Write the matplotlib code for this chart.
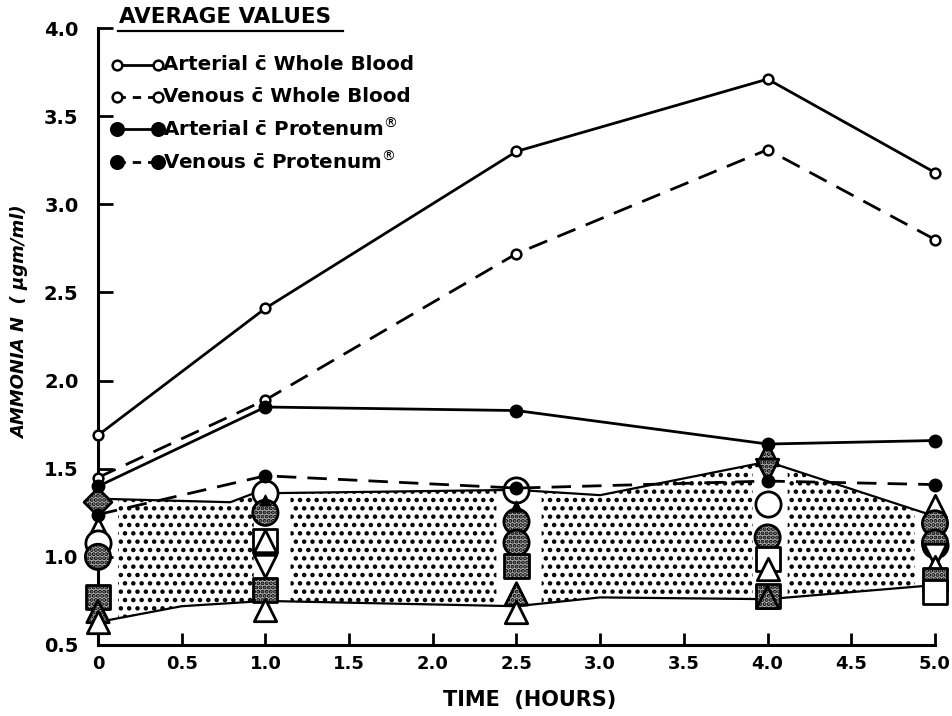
import numpy as np
import matplotlib
matplotlib.use("Agg")
import matplotlib.pyplot as plt
from matplotlib.lines import Line2D

plt.rcParams['hatch.linewidth'] = 2.0

# ---------------- data ----------------
times = [0.0, 1.0, 2.5, 4.0, 5.0]
arterial_whole_blood = [1.69, 2.41, 3.30, 3.71, 3.18]
venous_whole_blood = [1.45, 1.89, 2.72, 3.31, 2.80]
arterial_protenum = [1.40, 1.85, 1.83, 1.64, 1.66]
venous_protenum = [1.24, 1.46, 1.39, 1.43, 1.41]

# range band (individual values envelope)
band_upper_t = [0.0, 0.79, 0.93, 2.5, 3.0, 4.0, 5.0]
band_upper_v = [1.33, 1.31, 1.36, 1.38, 1.35, 1.54, 1.23]
band_lower_t = [0.0, 0.5, 1.0, 2.5, 3.0, 4.0, 5.0]
band_lower_v = [0.63, 0.72, 0.75, 0.72, 0.77, 0.76, 0.84]
band_segments = [(0.12, 0.93), (1.15, 2.38), (2.65, 3.91), (4.12, 4.88)]

# individual values at each sampling time (marker, fill)
col_t0_vals = [1.31, 1.16, 1.08, 1.00, 0.77, 0.69, 0.63]
col_t0_marks = ['D', '^', 'o', 'o', 's', '^', '^']
col_t0_fill = ['dot', 'open', 'open', 'dot', 'dot', 'dot', 'open']

col_t1_vals = [1.36, 1.32, 1.25, 1.09, 1.09, 0.95, 0.81, 0.70]
col_t1_marks = ['o', '^', 'o', 's', '^', 'v', 's', '^']
col_t1_fill = ['open', 'black', 'dot', 'open', 'open', 'open', 'dot', 'open']

col_t25_vals = [1.38, 1.29, 1.20, 1.08, 0.95, 0.79, 0.69]
col_t25_marks = ['o', '^', 'o', 'o', 's', '^', '^']
col_t25_fill = ['open', 'black', 'dot', 'dot', 'dot', 'dot', 'open']

col_t4_vals = [1.58, 1.49, 1.30, 1.11, 0.99, 0.93, 0.78, 0.77]
col_t4_marks = ['^', 'v', 'o', 'o', 's', '^', 's', '^']
col_t4_fill = ['dot', 'dot', 'open', 'dot', 'open', 'open', 'dot', 'dot']

col_t5_vals = [1.29, 1.19, 1.07, 1.08, 1.01, 0.94, 0.87, 0.80]
col_t5_marks = ['^', 'o', 'o', 'o', 'v', '^', 's', 's']
col_t5_fill = ['open', 'dot', 'open', 'dot', 'open', 'open', 'dot', 'open']

columns = [(0.0, col_t0_vals, col_t0_marks, col_t0_fill),
           (1.0, col_t1_vals, col_t1_marks, col_t1_fill),
           (2.5, col_t25_vals, col_t25_marks, col_t25_fill),
           (4.0, col_t4_vals, col_t4_marks, col_t4_fill),
           (5.0, col_t5_vals, col_t5_marks, col_t5_fill)]

x_ticks = [0, 0.5, 1.0, 1.5, 2.0, 2.5, 3.0, 3.5, 4.0, 4.5, 5.0]
x_ticklabels = ['0', '0.5', '1.0', '1.5', '2.0', '2.5', '3.0', '3.5', '4.0', '4.5', '5.0']
y_ticks = [0.5, 1.0, 1.5, 2.0, 2.5, 3.0, 3.5, 4.0]
y_ticklabels = ['0.5', '1.0', '1.5', '2.0', '2.5', '3.0', '3.5', '4.0']

# ---------------- figure ----------------
W, H = 953, 716
fig = plt.figure(figsize=(W / 100, H / 100), dpi=100)
fig.patch.set_facecolor('white')
ax = fig.add_axes([98 / W, 1 - 645 / H, (935 - 98) / W, (645 - 28) / H])
ax.set_xlim(0, 5)
ax.set_ylim(0.5, 4.0)
for s in ['top', 'right']:
    ax.spines[s].set_visible(False)
for s in ['left', 'bottom']:
    ax.spines[s].set_linewidth(2.2)

ax.set_xticks(x_ticks)
ax.set_xticklabels(x_ticklabels, fontsize=13, fontweight='bold')
ax.set_yticks(y_ticks)
ax.set_yticklabels(y_ticklabels, fontsize=14, fontweight='bold')
ax.tick_params(axis='x', direction='in', length=9, width=2, pad=7)
ax.tick_params(axis='y', direction='in', length=11, width=2, pad=14)

# stippled band
grid = np.linspace(0, 5, 1001)
up = np.interp(grid, band_upper_t, band_upper_v)
lo = np.interp(grid, band_lower_t, band_lower_v)
for a, b in band_segments:
    m = (grid >= a) & (grid <= b)
    ax.fill_between(grid[m], lo[m], up[m], facecolor='white', edgecolor='black',
                    hatch='..', linewidth=0, zorder=1)
ax.plot(band_upper_t, band_upper_v, color='black', lw=1.6, zorder=2, clip_on=False)
ax.plot(band_lower_t, band_lower_v, color='black', lw=1.6, zorder=2, clip_on=False)

# individual markers
size_map = {'o': 330, 's': 300, '^': 260, 'v': 260, 'D': 200}
for t, vals, marks, fills in columns:
    for v, mk, fl in zip(vals, marks, fills):
        sz = size_map[mk]
        if fl == 'black':
            ax.scatter([t], [v], marker=mk, s=60, facecolor='black', edgecolor='black',
                       zorder=3.5, clip_on=False)
            continue
        if fl == 'dot':
            ax.scatter([t], [v], marker=mk, s=sz, facecolor='0.7', edgecolor='black',
                       linewidths=2, hatch='....', zorder=3, clip_on=False)
        else:
            ax.scatter([t], [v], marker=mk, s=sz, facecolor='white', edgecolor='black',
                       linewidths=2, zorder=3, clip_on=False)

# average lines
ax.plot(times, arterial_whole_blood, '-', color='black', lw=2.0, marker='o', ms=7,
        mfc='white', mew=1.8, zorder=5, clip_on=False)
ax.plot(times, venous_whole_blood, '--', color='black', lw=2.0, dashes=(7, 4), marker='o', ms=7,
        mfc='white', mew=1.8, zorder=5, clip_on=False)
ax.plot(times, arterial_protenum, '-', color='black', lw=2.0, marker='o', ms=9,
        mfc='black', zorder=5, clip_on=False)
ax.plot(times, venous_protenum, '--', color='black', lw=2.0, dashes=(7, 4), marker='o', ms=9,
        mfc='black', zorder=5, clip_on=False)

# axis labels
fig.text(530 / W, 1 - 700 / H, 'TIME  (HOURS)', ha='center', va='center',
         fontsize=15, fontweight='bold')
fig.text(20 / W, 1 - 322 / H, 'AMMONIA N  ( μgm/ml)', ha='center', va='center',
         rotation=90, fontsize=13, fontweight='bold', style='italic')

# legend (hand drawn style)
def fx(x):
    return x / W

def fy(y):
    return 1 - y / H

fig.text(fx(119), fy(17), 'AVERAGE VALUES', ha='left', va='center', fontsize=15.5,
         fontweight='bold')
fig.add_artist(Line2D([fx(118), fx(343)], [fy(31), fy(31)], color='black', lw=1.6))

legend_rows = [
    (65, '-', 'white', 7, 'Arterial c\u0304 Whole Blood'),
    (97, '--', 'white', 7, 'Venous c\u0304 Whole Blood'),
    (129, '-', 'black', 9, 'Arterial c\u0304 Protenum$^{\u00ae}$'),
    (162, '--', 'black', 9, 'Venous c\u0304 Protenum$^{\u00ae}$'),
]
for y, ls, mfc, ms, label in legend_rows:
    ln = Line2D([fx(117), fx(158)], [fy(y), fy(y)], color='black', lw=2.0, linestyle=ls,
                dashes=(3, 2.5) if ls == '--' else (None, None),
                marker='o', ms=ms, mfc=mfc, mec='black', mew=1.8)
    fig.add_artist(ln)
    fig.text(fx(163), fy(y), label, ha='left', va='center', fontsize=14.3,
             fontweight='bold')

fig.savefig('out.png', dpi=100, facecolor='white')
